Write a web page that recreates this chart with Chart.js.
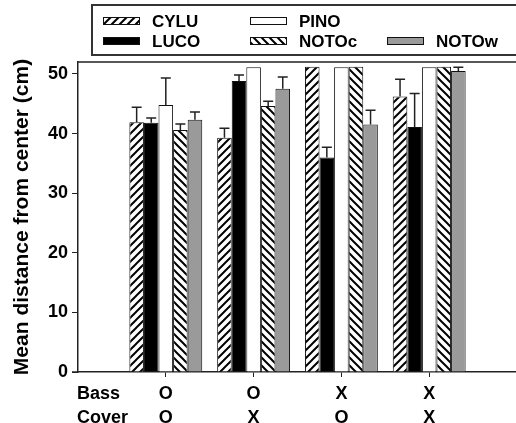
<!DOCTYPE html>
<html>
<head>
<meta charset="utf-8">
<script src="https://cdn.jsdelivr.net/npm/chart.js@4.4.1/dist/chart.umd.min.js"></script>
<style>
  html, body { margin: 0; padding: 0; overflow: hidden; background: #fff; }
  #wrap { width: 522px; height: 423px; }
</style>
</head>
<body>
<div id="wrap"><canvas id="chart"></canvas></div>
<script>
// treatment labels (two rows under each group)
const bass = ['O', 'O', 'X', 'X'];
const cover = ['O', 'X', 'O', 'X'];
const yTicks = [0, 10, 20, 30, 40, 50];

// mean distance from center (cm) and upper error
const cylu = [41.9, 39.3, 51.2, 46.2];
const cyluErr = [2.5, 1.6, 0, 2.9];
const luco = [41.8, 48.8, 36.0, 41.1];
const lucoErr = [0.8, 1.0, 1.7, 5.6];
const pino = [44.8, 51.1, 51.1, 51.1];
const pinoErr = [4.5, 0, 0, 0];
const notoc = [40.6, 44.6, 51.2, 51.2];
const notocErr = [1.0, 0.8, 0, 0];
const notow = [42.3, 47.5, 41.5, 50.5];
const notowErr = [1.3, 2.0, 2.4, 0.6];

const FONT = '"Liberation Sans", Arial, Helvetica, sans-serif';

function hatch(up) {
  const s = 8;
  const c = document.createElement('canvas');
  c.width = s; c.height = s;
  const g = c.getContext('2d');
  g.fillStyle = '#fff';
  g.fillRect(0, 0, s, s);
  g.strokeStyle = '#000';
  g.lineWidth = 2;
  g.beginPath();
  if (up) {
    g.moveTo(0, s); g.lineTo(s, 0);
    g.moveTo(-1, 1); g.lineTo(1, -1);
    g.moveTo(s - 1, s + 1); g.lineTo(s + 1, s - 1);
  } else {
    g.moveTo(0, 0); g.lineTo(s, s);
    g.moveTo(-1, s - 1); g.lineTo(1, s + 1);
    g.moveTo(s - 1, -1); g.lineTo(s + 1, 1);
  }
  g.stroke();
  return g.createPattern(c, 'repeat');
}

const fillUp = hatch(true);
const fillDown = hatch(false);

// empty slot on each side so groups sit one step in from the axis
const pad = arr => [null, ...arr, null];
const labels = ['', ...bass.map((b, i) => [b, cover[i]]), ''];

function ds(label, values, errs, fill) {
  return {
    label: label,
    data: pad(values),
    errors: pad(errs),
    backgroundColor: fill,
    borderColor: '#111',
    borderWidth: 1,
    borderSkipped: 'bottom'
  };
}

const errorBars = {
  id: 'errorBars',
  afterDatasetsDraw(chart) {
    const ctx = chart.ctx;
    const y = chart.scales.y;
    ctx.save();
    ctx.strokeStyle = '#222';
    ctx.lineWidth = 1.5;
    chart.data.datasets.forEach((set, i) => {
      chart.getDatasetMeta(i).data.forEach((bar, j) => {
        const e = set.errors[j];
        if (!e) return;
        const top = y.getPixelForValue(set.data[j] + e);
        ctx.beginPath();
        ctx.moveTo(bar.x, bar.y);
        ctx.lineTo(bar.x, top);
        ctx.moveTo(bar.x - 5, top);
        ctx.lineTo(bar.x + 5, top);
        ctx.stroke();
      });
    });
    ctx.restore();
  }
};

// frame line, legend box and the Bass / Cover row titles
const decor = {
  id: 'decor',
  afterDraw(chart) {
    const ctx = chart.ctx;
    const area = chart.chartArea;
    const sets = chart.data.datasets;
    ctx.save();
    ctx.strokeStyle = '#222';
    ctx.lineWidth = 1.5;
    ctx.beginPath();
    ctx.moveTo(area.left, area.top);
    ctx.lineTo(chart.width, area.top);
    // x axis runs a little past the y axis, as in the original
    ctx.moveTo(area.left - 6, area.bottom);
    ctx.lineTo(area.left, area.bottom);
    ctx.stroke();

    ctx.strokeStyle = '#333';
    ctx.lineWidth = 2;
    ctx.strokeRect(92, 5, 440, 50);

    const items = [
      [0, 103, 17], [1, 103, 37], [2, 250, 17], [3, 250, 37], [4, 387, 37]
    ];
    ctx.font = 'bold 17px ' + FONT;
    ctx.textBaseline = 'middle';
    ctx.textAlign = 'left';
    items.forEach(([k, x, y]) => {
      ctx.fillStyle = sets[k].backgroundColor;
      ctx.fillRect(x, y, 37, 8);
      ctx.strokeStyle = '#111';
      ctx.lineWidth = 1;
      ctx.strokeRect(x + 0.5, y + 0.5, 36, 7);
      ctx.fillStyle = '#000';
      ctx.fillText(sets[k].label, x + 49, y + 5);
    });

    ctx.font = 'bold 18px ' + FONT;
    ctx.fillText('Bass', area.left - 1, area.bottom + 22);
    ctx.fillText('Cover', area.left - 1, area.bottom + 46);
    ctx.restore();
  }
};

new Chart(document.getElementById('chart'), {
  type: 'bar',
  data: {
    labels: labels,
    datasets: [
      ds('CYLU', cylu, cyluErr, fillUp),
      ds('LUCO', luco, lucoErr, '#000'),
      ds('PINO', pino, pinoErr, '#fff'),
      ds('NOTOc', notoc, notocErr, fillDown),
      ds('NOTOw', notow, notowErr, '#9a9a9a')
    ]
  },
  options: {
    responsive: true,
    maintainAspectRatio: false,
    animation: false,
    layout: { padding: { top: 62, right: 0, left: 0, bottom: 0 } },
    categoryPercentage: 0.83,
    barPercentage: 1.0,
    plugins: {
      legend: { display: false },
      tooltip: { enabled: false }
    },
    scales: {
      x: {
        offset: false,
        grid: {
          offset: false,
          drawOnChartArea: false,
          tickLength: 5,
          tickColor: c => (c.index === 0 || c.index === labels.length - 1) ? 'rgba(0,0,0,0)' : '#222'
        },
        border: { color: '#222', width: 1.5 },
        ticks: {
          autoSkip: false,
          maxRotation: 0,
          padding: 5,
          color: '#000',
          font: { family: FONT, size: 18, weight: 'bold', lineHeight: 1.333 }
        },
        afterFit: s => { s.height = 51; }
      },
      y: {
        min: 0,
        max: 52,
        afterBuildTicks: s => { s.ticks = yTicks.map(v => ({ value: v })); },
        grid: { drawOnChartArea: false, tickLength: 6, tickColor: '#222' },
        border: { color: '#222', width: 1.5 },
        ticks: {
          padding: 4,
          color: '#000',
          font: { family: FONT, size: 18, weight: 'bold' }
        },
        title: {
          display: true,
          text: 'Mean distance from center (cm)',
          color: '#000',
          font: { family: FONT, size: 21, weight: 'bold' },
          padding: { top: 10, bottom: 0 }
        },
        afterFit: s => { s.width = 78; }
      }
    }
  },
  plugins: [errorBars, decor]
});
</script>
</body>
</html>
